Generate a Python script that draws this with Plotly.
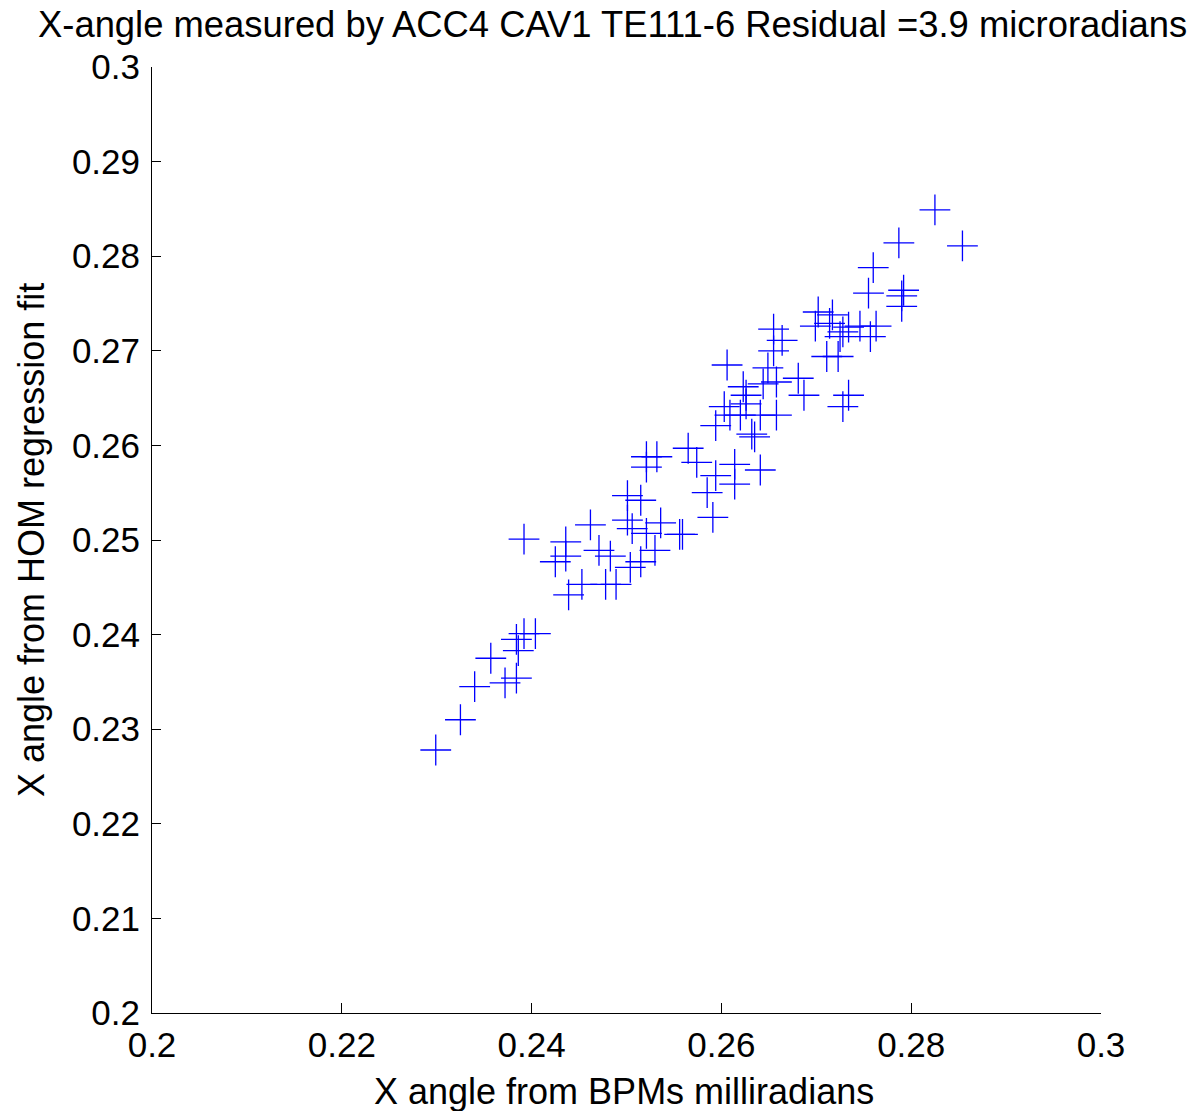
import plotly.graph_objects as go

x_bpm = [0.2299, 0.2325, 0.2340, 0.2357, 0.2372, 0.2384, 0.2386, 0.2384, 0.2392, 0.2404,
         0.2392, 0.2436, 0.2436, 0.2425, 0.2462, 0.2471, 0.2483, 0.2501, 0.2515, 0.2501,
         0.2506, 0.2521, 0.2504, 0.2515, 0.2439, 0.2453, 0.2478, 0.2489, 0.2521, 0.2532,
         0.2521, 0.2565, 0.2574, 0.2594, 0.2614, 0.2614, 0.2585, 0.2591, 0.2536, 0.2556,
         0.2559, 0.2530, 0.2606, 0.2649, 0.2655, 0.2664, 0.2655, 0.2681, 0.2623, 0.2644,
         0.2658, 0.2626, 0.2626, 0.2603, 0.2609, 0.2620, 0.2641, 0.2658, 0.2594, 0.2632,
         0.2635, 0.2641, 0.2702, 0.2714, 0.2717, 0.2699, 0.2734, 0.2728, 0.2725, 0.2746,
         0.2763, 0.2757, 0.2711, 0.2723, 0.2687, 0.2734, 0.2728, 0.2825, 0.2787, 0.2854,
         0.2760, 0.2755, 0.2792, 0.2790, 0.2790]

y_hom = [0.2278, 0.2310, 0.2345, 0.2375, 0.2349, 0.2354, 0.2383, 0.2395, 0.2401, 0.2401,
         0.2501, 0.2498, 0.2483, 0.2477, 0.2516, 0.2489, 0.2483, 0.2547, 0.2542, 0.2521,
         0.2512, 0.2507, 0.2471, 0.2477, 0.2442, 0.2453, 0.2453, 0.2453, 0.2588, 0.2588,
         0.2577, 0.2597, 0.2582, 0.2568, 0.2580, 0.2559, 0.2550, 0.2524, 0.2518, 0.2506,
         0.2506, 0.2489, 0.2685, 0.2682, 0.2700, 0.2711, 0.2723, 0.2671, 0.2662, 0.2665,
         0.2667, 0.2653, 0.2644, 0.2641, 0.2632, 0.2632, 0.2632, 0.2632, 0.2621, 0.2612,
         0.2609, 0.2574, 0.2741, 0.2729, 0.2738, 0.2726, 0.2725, 0.2720, 0.2715, 0.2726,
         0.2726, 0.2715, 0.2694, 0.2694, 0.2653, 0.2653, 0.2641, 0.2849, 0.2814, 0.2811,
         0.2788, 0.2761, 0.2764, 0.2758, 0.2747]

x_ticks = [0.2, 0.22, 0.24, 0.26, 0.28, 0.3]
x_tick_text = ["0.2", "0.22", "0.24", "0.26", "0.28", "0.3"]
y_ticks = [0.2, 0.21, 0.22, 0.23, 0.24, 0.25, 0.26, 0.27, 0.28, 0.29, 0.3]
y_tick_text = ["0.2", "0.21", "0.22", "0.23", "0.24", "0.25", "0.26", "0.27", "0.28", "0.29", "0.3"]

title_text = "X-angle measured by ACC4 CAV1 TE111-6 Residual =3.9 microradians"
x_title = "X angle from BPMs milliradians"
y_title = "X angle from HOM regression fit"

FONT = "Liberation Sans, Arial, Helvetica, sans-serif"

W, H = 1195, 1111
L, R, T, B = 152, 94, 67, 98
PW, PH = W - L - R, H - T - B


def px_x(px):
    return (px - L) / PW


def px_y(py):
    return (H - B - py) / PH


fig = go.Figure()
fig.add_trace(go.Scatter(
    x=x_bpm, y=y_hom, mode="markers",
    marker=dict(symbol="cross-thin", size=22, line=dict(color="#0000ff", width=1.3), color="#0000ff"),
    showlegend=False,
))

fig.update_layout(
    width=W, height=H,
    margin=dict(l=L, r=R, t=T, b=B, pad=0, autoexpand=False),
    paper_bgcolor="white", plot_bgcolor="white",
    font=dict(family=FONT, size=35, color="black"),
    annotations=[
        dict(text=title_text, xref="paper", yref="paper", x=px_x(612), y=px_y(24),
             xanchor="center", yanchor="middle", showarrow=False,
             font=dict(family=FONT, size=36.4, color="black")),
        dict(text=x_title, xref="paper", yref="paper", x=px_x(624), y=px_y(1091),
             xanchor="center", yanchor="middle", showarrow=False,
             font=dict(family=FONT, size=36, color="black")),
        dict(text=y_title, xref="paper", yref="paper", x=px_x(31), y=px_y(540),
             xanchor="center", yanchor="middle", showarrow=False, textangle=-90,
             font=dict(family=FONT, size=36, color="black")),
    ],
)
fig.update_xaxes(
    range=[0.2, 0.3], tickvals=x_ticks, ticktext=x_tick_text, automargin=False,
    showgrid=False, zeroline=False, showline=True, linecolor="black", linewidth=1,
    ticks="inside", ticklen=10, tickcolor="black", tickwidth=1,
    tickfont=dict(family=FONT, size=35, color="black"), ticklabelstandoff=1,
    mirror=False,
)
fig.update_yaxes(
    range=[0.2, 0.3], tickvals=y_ticks, ticktext=y_tick_text, automargin=False,
    showgrid=False, zeroline=False, showline=True, linecolor="black", linewidth=1,
    ticks="inside", ticklen=9, tickcolor="black", tickwidth=1,
    tickfont=dict(family=FONT, size=35, color="black"), ticklabelstandoff=4,
    mirror=False,
)

fig.write_html("out.html", config={"displayModeBar": False},
               post_script="document.body.style.margin='0px';")
